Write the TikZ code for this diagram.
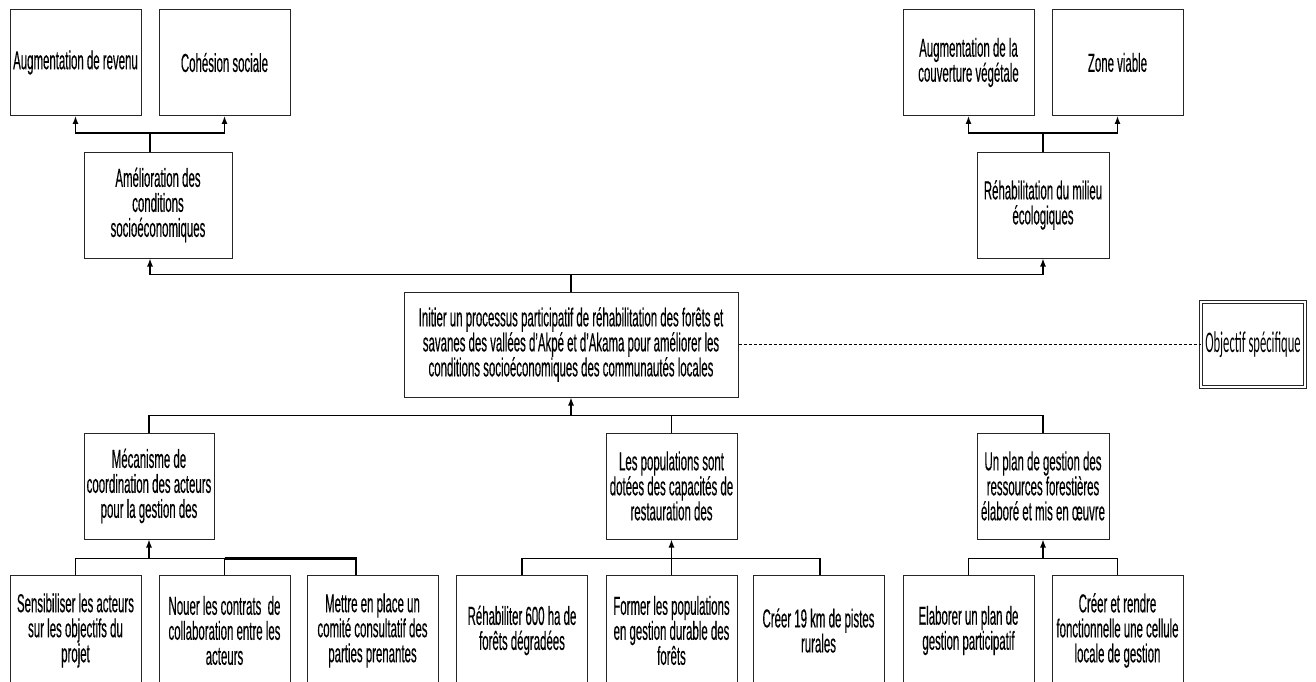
\documentclass[tikz,border=0pt]{standalone}
\usepackage{fontspec}
\setmainfont{Liberation Sans}[FakeStretch=0.44, FakeBold=0.3]
\newfontfamily\objfont{Carlito}[FakeStretch=0.42]
\usetikzlibrary{arrows.meta}

\tikzset{
  box/.style={draw=black!85, line width=1pt, align=center, inner sep=0pt,
    minimum width=131pt, minimum height=106pt, font=\fontsize{26}{25}\selectfont},
  leaf/.style={box, minimum height=110pt},
}

\begin{document}
\begin{tikzpicture}[x=1pt, y=-1pt, line width=1.3pt, >={Latex[length=8pt,width=6pt]}]
  \useasboundingbox (0,0) rectangle (1316,682);

  % effets
  \node[box] (rev)    at (75.5, 62.5)   {Augmentation de revenu};
  \node[box] (coh)    at (224.5, 62.5)  {Cohésion sociale};
  \node[box] (veg)    at (968.5, 62.5)  {Augmentation de la\\couverture végétale};
  \node[box] (viable) at (1117.5, 62.5) {Zone viable};
  \node[box, minimum width=148pt] (econ) at (158, 205)  {Amélioration des\\conditions\\socioéconomiques};
  \node[box, minimum width=132pt] (eco)  at (1043, 205) {Réhabilitation du milieu\\écologiques};

  % objectif
  \node[box, minimum width=334pt, minimum height=105pt] (goal) at (571, 344.5)
    {Initier un processus participatif de réhabilitation des forêts et\\savanes des vallées d'Akpé et d'Akama pour améliorer les\\conditions socioéconomiques des communautés locales};
  \node[draw=black!85, double, double distance=2pt, line width=0.9pt, minimum width=104pt,
    minimum height=85pt, inner sep=0pt, font=\objfont\fontsize{30}{30}\selectfont] (obj) at (1253, 344.5) {Objectif spécifique};

  % resultats
  \node[box, minimum width=130pt] (mec)  at (149, 486)   {Mécanisme de\\coordination des acteurs\\pour la gestion des};
  \node[box] (pop)  at (671.5, 486) {Les populations sont\\dotées des capacités de\\restauration des};
  \node[box, minimum width=132pt] (plan) at (1043, 486)  {Un plan de gestion des\\ressources forestières\\élaboré et mis en œuvre};

  % activites
  \node[leaf] (sens)   at (75.5, 630.5)  {Sensibiliser les acteurs\\sur les objectifs du\\projet};
  \node[leaf] (nouer)  at (224.5, 630.5) {Nouer les contrats~ de\\collaboration entre les\\acteurs};
  \node[leaf] (mettre) at (372.5, 630.5) {Mettre en place un\\comité consultatif des\\parties prenantes};
  \node[leaf] (rehab)  at (522, 630.5)   {Réhabiliter 600 ha de\\forêts dégradées};
  \node[leaf] (former) at (671.5, 630.5) {Former les populations\\en gestion durable des\\forêts};
  \node[leaf] (pistes) at (818.5, 630.5) {Créer 19 km de pistes\\rurales};
  \node[leaf] (elab)   at (968.5, 630.5) {Elaborer un plan de\\gestion participatif};
  \node[leaf] (cell)   at (1117.5, 630.5) {Créer et rendre\\fonctionnelle une cellule\\locale de gestion};

  % liens vers les effets
  \coordinate (j1) at (150, 133);
  \draw (j1) -- (j1 |- econ.north);
  \draw[->] (j1) -| (rev.south);
  \draw[->] (j1) -| (coh.south);
  \coordinate (j2) at (1043, 133);
  \draw (j2) -- (eco.north);
  \draw[->] (j2) -| (veg.south);
  \draw[->] (j2) -| (viable.south);

  \coordinate (t) at ([yshift=17pt]goal.north);
  \draw (t) -- (goal.north);
  \draw[->] (t) -| ([xshift=-8pt]econ.south);
  \draw[->] (t) -| (eco.south);
  \draw[dash pattern=on 3pt off 2pt, line width=0.8pt] (goal.east) -- (obj.west);

  % liens depuis les resultats
  \coordinate (b) at ([yshift=-18pt]goal.south);
  \draw[->] (b) -- (goal.south);
  \draw (b) -| (mec.north);
  \draw (b) -| (pop.north);
  \draw (b) -| (plan.north);

  \coordinate (m) at ([yshift=-19pt]mec.south);
  \draw[->] (m) -- (mec.south);
  \draw (m) -| (sens.north);
  \draw (m) -| (nouer.north);
  \draw[line width=2.2pt] (nouer.north |- m) -| ([xshift=-16.5pt]mettre.north);

  \coordinate (p) at ([yshift=-19pt]pop.south);
  \draw[->] (p) -- (pop.south);
  \draw (p) -| (rehab.north);
  \draw (p) -- (former.north);
  \draw (p) -| ([xshift=1.5pt]pistes.north);

  \coordinate (q) at ([yshift=-19pt]plan.south);
  \draw[->] (q) -- (plan.south);
  \draw (q) -| (elab.north);
  \draw (q) -| (cell.north);
\end{tikzpicture}
\end{document}
